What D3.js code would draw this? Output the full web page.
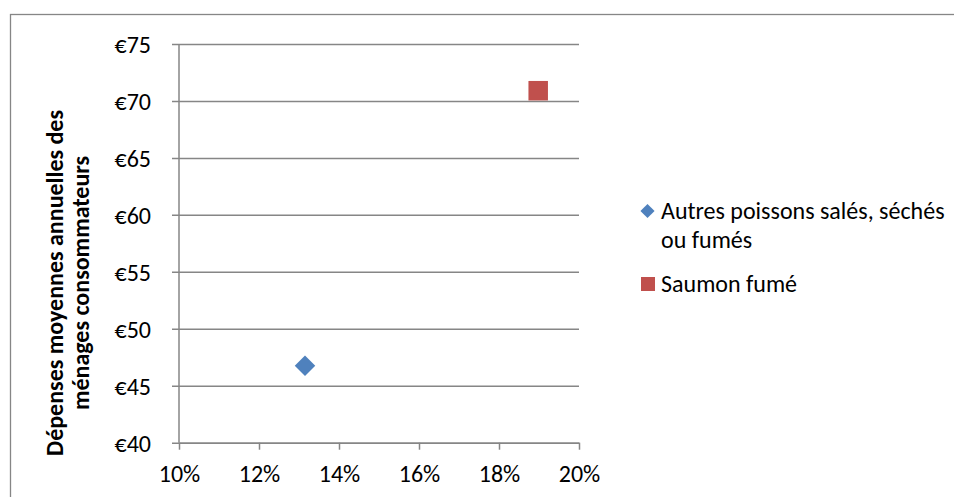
<!DOCTYPE html>
<html><head><meta charset="utf-8">
<script src="https://cdn.jsdelivr.net/npm/d3@7"></script>
<style>
html,body{margin:0;padding:0;background:#fff;}
svg{display:block;}
text{font-family:Carlito, Lato, "Open Sans", sans-serif;fill:#000;}
</style></head>
<body>
<svg id="c" width="954" height="497"></svg>
<script>
const seriesNames = ["Autres poissons salés, séchés ou fumés", "Saumon fumé"];
const legendLines = [["Autres poissons salés, séchés", "ou fumés"], ["Saumon fumé"]];
const xValues = [0.1315, 0.1898];
const yValues = [46.75, 70.9];
const seriesColors = ["#4F81BD", "#C0504D"];
const seriesShapes = ["diamond", "square"];
const xTicks = [0.10, 0.12, 0.14, 0.16, 0.18, 0.20];
const yTicks = [40, 45, 50, 55, 60, 65, 70, 75];
const yTitle = ["Dépenses moyennes annuelles des", "ménages consommateurs"];

const svg = d3.select("#c");
const gray = "#868686";
const fs = 24;

// outer frame
svg.append("rect").attr("x", 10.5).attr("y", 14.5).attr("width", 1000).attr("height", 600)
  .attr("fill", "none").attr("stroke", gray).attr("stroke-width", 1.3);

const x = d3.scaleLinear().domain([0.10, 0.20]).range([179, 579]);
const y = d3.scaleLinear().domain([40, 75]).range([442.7, 44]);

// gridlines (with outward tick)
const yAxis = d3.axisLeft(y).tickValues(yTicks).tickSize(-(579 - 179)).tickSizeOuter(0)
  .tickFormat(d => "€" + d);
const gy = svg.append("g").attr("transform", "translate(179,0)").call(yAxis);
gy.select(".domain").remove();
gy.selectAll(".tick line").attr("x1", -7).attr("stroke", gray).attr("stroke-width", 1.5);
gy.selectAll(".tick text").attr("x", -28).attr("font-size", fs).attr("dy", "0.35em");

// y axis line
svg.append("line").attr("x1", 179).attr("x2", 179).attr("y1", y(75)).attr("y2", y(40))
  .attr("stroke", gray).attr("stroke-width", 1.5);

const xAxis = d3.axisBottom(x).tickValues(xTicks).tickSize(7).tickSizeOuter(0)
  .tickFormat(d3.format(".0%"));
const gx = svg.append("g").attr("transform", `translate(0,${y(40)})`).call(xAxis);
gx.select(".domain").attr("stroke", gray).attr("stroke-width", 1.5);
gx.selectAll(".tick line").attr("stroke", gray).attr("stroke-width", 1.5);
gx.selectAll(".tick text").attr("font-size", fs).attr("y", 0).attr("dy", 0)
  .attr("transform", "translate(0,39)");

// y title
const yt = svg.append("text").attr("transform", "translate(0,283) rotate(-90)")
  .attr("text-anchor", "middle").attr("font-weight", "bold").attr("font-size", fs);
yTitle.forEach((t, i) => yt.append("tspan").attr("x", 0).attr("y", 62.5 + i * 26.5).text(t));

// plot symbols
const pts = xValues.map((v, i) => ({x: v, y: yValues[i], i}));
svg.selectAll(".pt").data(pts).join("path").attr("class", "pt")
  .attr("d", d => d3.symbol().type(d3.symbolSquare).size(seriesShapes[d.i] === "diamond" ? 14.5 * 14.5 : 19.5 * 19.5)())
  .attr("transform", d => `translate(${x(d.x)},${y(d.y)}) rotate(${seriesShapes[d.i] === "diamond" ? 45 : 0})`)
  .attr("fill", d => seriesColors[d.i]);

// legend
const legY = [211, 284];
const lg = svg.append("g");
seriesNames.forEach((name, i) => {
  const s = seriesShapes[i] === "diamond" ? 10 : 14;
  lg.append("path").attr("d", d3.symbol().type(d3.symbolSquare).size(s * s)())
    .attr("transform", `translate(${seriesShapes[i] === "diamond" ? 647.5 : 648},${legY[i]}) rotate(${seriesShapes[i] === "diamond" ? 45 : 0})`)
    .attr("fill", seriesColors[i]);
  const t = lg.append("text").attr("font-size", fs);
  legendLines[i].forEach((l, j) => t.append("tspan").attr("x", 661).attr("y", legY[i] + 8 + j * 29).text(l));
});
</script>
</body></html>
